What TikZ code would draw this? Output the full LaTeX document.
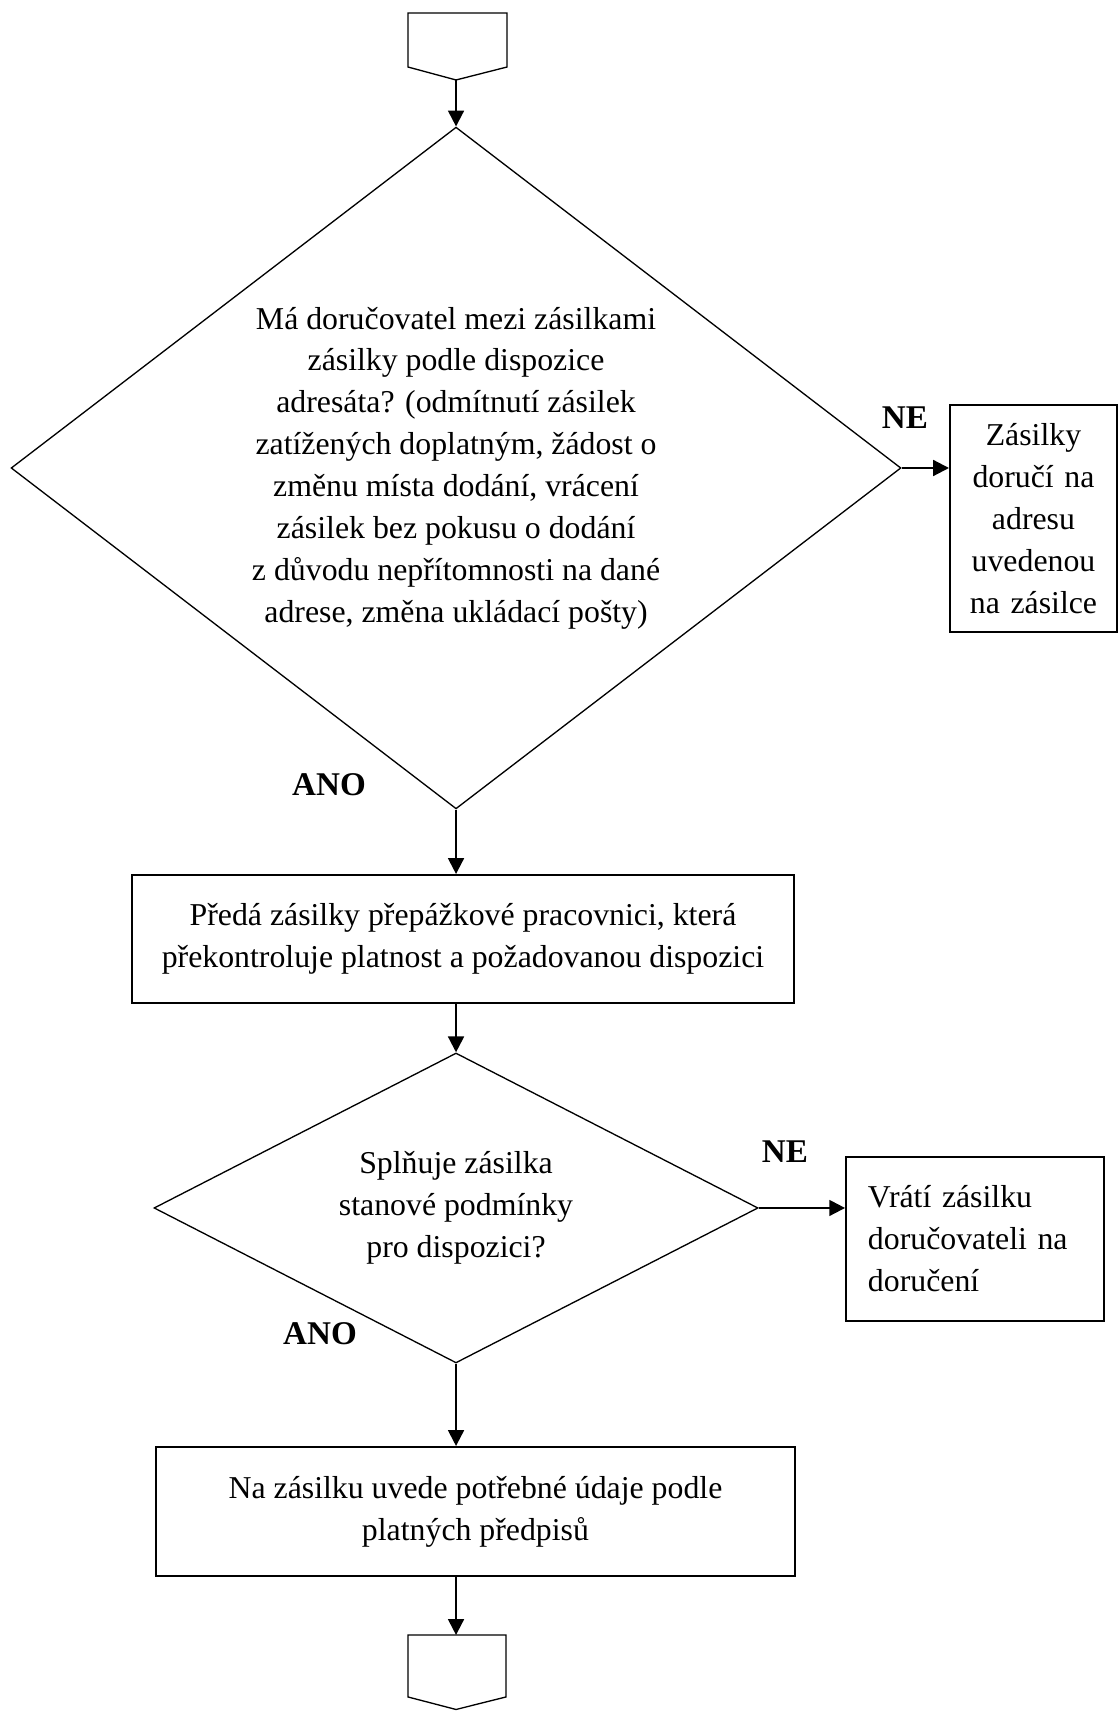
\documentclass[tikz,border=0pt]{standalone}
\usepackage{fontspec}
\setmainfont{Liberation Serif}
\usetikzlibrary{calc, arrows.meta, shapes.geometric}

\begin{document}
\begin{tikzpicture}[
	box/.style={draw, line width=0.75pt, inner sep=0pt, align=center, font=\fontsize{12}{15.8}\selectfont},
	dia/.style={draw, diamond, aspect=1.3, line width=0.5pt, inner sep=0pt, align=center, font=\fontsize{12}{15.8}\selectfont},
	flow/.style={-{Triangle[length=0.21cm, width=0.21cm]}, line width=0.8pt},
	answer/.style={font=\fontsize{12.5}{15}\selectfont\bfseries}
]

	\useasboundingbox (0,0) rectangle (14.825,22.688);

	% off-page connectors
	\coordinate (in) at (6.047,21.627);
	\coordinate (out) at (6.047,1.008);

	\draw[line width=0.5pt] (5.410,22.515) -- (6.723,22.515) -- (6.723,21.799) -- (in) -- (5.410,21.799) -- cycle;
	\draw[line width=0.5pt] (5.410,1.008) -- (6.710,1.008) -- (6.710,0.186) -- (6.047,0.02) -- (5.410,0.186) -- cycle;

	% decisions
	\node[dia, minimum width=11.80cm, minimum height=9.04cm] (q1) at (6.047,16.482)
		{Má doručovatel mezi zásilkami\\zásilky podle dispozice\\adresáta? (odmítnutí zásilek\\zatížených doplatným, žádost o\\změnu místa dodání, vrácení\\zásilek bez pokusu o dodání\\z důvodu nepřítomnosti na dané\\adrese, změna ukládací pošty)};

	\node[dia, aspect=1.95, minimum width=8.01cm, minimum height=4.11cm] (q2) at (6.047,6.670)
		{Splňuje zásilka\\stanové podmínky\\pro dispozici?};

	% boxes
	\node[box, text width=2.0cm, minimum width=2.214cm, minimum height=3.010cm] (z1) at (13.704,15.813)
		{Zásilky\\doručí na\\adresu\\uvedenou\\na zásilce};

	\node[box, minimum width=8.778cm, minimum height=1.697cm] (b1) at (6.139,10.237)
		{Předá zásilky přepážkové pracovnici, která\\překontroluje platnost a požadovanou dispozici};

	\node[box, align=left, text width=2.84cm, inner xsep=0.29cm, minimum height=2.175cm] (b2) at (12.929,6.259)
		{Vrátí zásilku\\doručovateli na\\doručení};

	\node[box, minimum width=8.473cm, minimum height=1.711cm] (b3) at (6.305,2.645)
		{Na zásilku uvede potřebné údaje podle\\platných předpisů};

	% answers
	\node[answer] (ne1) at (12.0,17.145) {NE};
	\node[answer] (ano1) at (4.363,12.279) {ANO};
	\node[answer] (ne2) at (10.409,7.412) {NE};
	\node[answer] (ano2) at (4.243,4.999) {ANO};

	% flow
	\draw[flow] (in) -- (q1.north);
	\draw[flow] (q1.east) -- (q1.east -| z1.west);
	\draw[flow] (q1.south) -- (q1.south |- b1.north);
	\draw[flow] (b1.south -| q2.north) -- (q2.north);
	\draw[flow] (q2.east) -- (q2.east -| b2.west);
	\draw[flow] (q2.south) -- (q2.south |- b3.north);
	\draw[flow] (b3.south -| out) -- (out);

\end{tikzpicture}
\end{document}
